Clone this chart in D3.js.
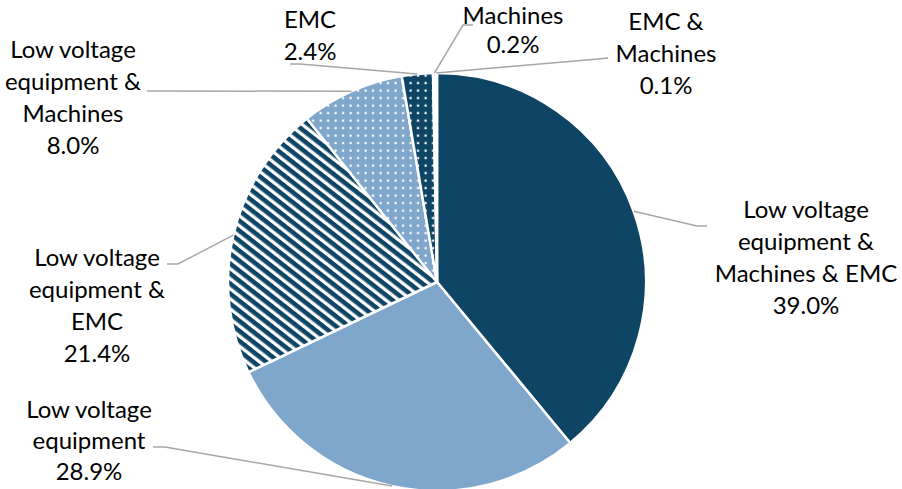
<!DOCTYPE html>
<html>
<head>
<meta charset="utf-8">
<script src="https://cdn.jsdelivr.net/npm/d3@7/dist/d3.min.js"></script>
<style>
html,body{margin:0;padding:0;background:#fff;}
svg{display:block;}
text{font-family:Lato,"Open Sans",sans-serif;font-size:24px;fill:#000;}
</style>
</head>
<body>
<svg id="chart" width="902" height="489"></svg>
<script>
// ---- data ----
const categories = [
  "Low voltage equipment & Machines & EMC",
  "Low voltage equipment",
  "Low voltage equipment & EMC",
  "Low voltage equipment & Machines",
  "EMC",
  "Machines",
  "EMC & Machines"
];
const labelLines = [
  ["Low voltage","equipment &","Machines & EMC"],
  ["Low voltage","equipment"],
  ["Low voltage","equipment &","EMC"],
  ["Low voltage","equipment &","Machines"],
  ["EMC"],
  ["Machines"],
  ["EMC &","Machines"]
];
const values = [39.0, 28.9, 21.4, 8.0, 2.4, 0.2, 0.1];

// ---- layout / styles ----
const W = 902, H = 489;
const cx = 437, cy = 282, R = 209;
const navy = "#0E4565", light = "#7FA6CB";
const fills = ["navy","light","url(#stripes)","url(#dotsLight)","url(#dotsNavy)","light","navy"];
// label layout: center x, first baseline y, line gap, leader elbow & end
const labelLayout = [
  {x:806, y:218, gap:32, ex:697, ey:226, hx:707, hy:226},
  {x:89,  y:418, gap:31, ex:165, ey:447, hx:153, hy:447},
  {x:97,  y:266, gap:32, ex:178, ey:264, hx:167, hy:264},
  {x:73,  y:58,  gap:32, ex:157, ey:91,  hx:147, hy:91},
  {x:310, y:28,  gap:32, ex:300, ey:64,  hx:290, hy:64},
  {x:513, y:24,  gap:29, ex:463, ey:25,  hx:473, hy:25},
  {x:666, y:30,  gap:32, ex:598, ey:59,  hx:608, hy:58}
];

const svg = d3.select("#chart");
const defs = svg.append("defs");

// stripes pattern
const st = defs.append("pattern").attr("id","stripes")
  .attr("patternUnits","userSpaceOnUse").attr("width",10).attr("height",7.9)
  .attr("patternTransform","rotate(38)");
st.append("rect").attr("width",10).attr("height",7.9).attr("fill","#fff");
st.append("rect").attr("width",10).attr("height",4.6).attr("fill",navy);

function dots(id, bg){
  const p = defs.append("pattern").attr("id",id)
    .attr("patternUnits","userSpaceOnUse").attr("width",7.5).attr("height",7.5);
  p.append("rect").attr("width",7.5).attr("height",7.5).attr("fill",bg);
  p.append("rect").attr("x",2.5).attr("y",2.5).attr("width",2.2).attr("height",2.2).attr("fill","#fff");
}
dots("dotsLight", light);
dots("dotsNavy", navy);

const colorOf = f => f === "navy" ? navy : f === "light" ? light : f;

const pie = d3.pie().sort(null).value(d => d);
const arcs = pie(values);
const arc = d3.arc().innerRadius(0).outerRadius(R);

const g = svg.append("g").attr("transform", `translate(${cx},${cy})`);
g.selectAll("path.slice").data(arcs).enter().append("path")
  .attr("class","slice")
  .attr("d", arc)
  .attr("fill", (d,i) => colorOf(fills[i]))
  .attr("stroke","#fff")
  .attr("stroke-width",2.5)
  .attr("stroke-linejoin","round");

// leader lines
arcs.forEach((d,i) => {
  const L = labelLayout[i];
  const a = (d.startAngle + d.endAngle) / 2;
  const sx = cx + R * Math.sin(a), sy = cy - R * Math.cos(a);
  svg.append("polyline")
    .attr("points", `${sx},${sy} ${L.ex},${L.ey} ${L.hx},${L.hy}`)
    .attr("fill","none").attr("stroke","#A6A6A6").attr("stroke-width",1.5);
});

// labels
arcs.forEach((d,i) => {
  const L = labelLayout[i];
  const lines = labelLines[i].concat([d3.format(".1f")(values[i]) + "%"]);
  const t = svg.append("text").attr("text-anchor","middle");
  lines.forEach((s,k) => {
    t.append("tspan").attr("x", L.x).attr("y", L.y + k * L.gap).text(s);
  });
});
</script>
</body>
</html>
